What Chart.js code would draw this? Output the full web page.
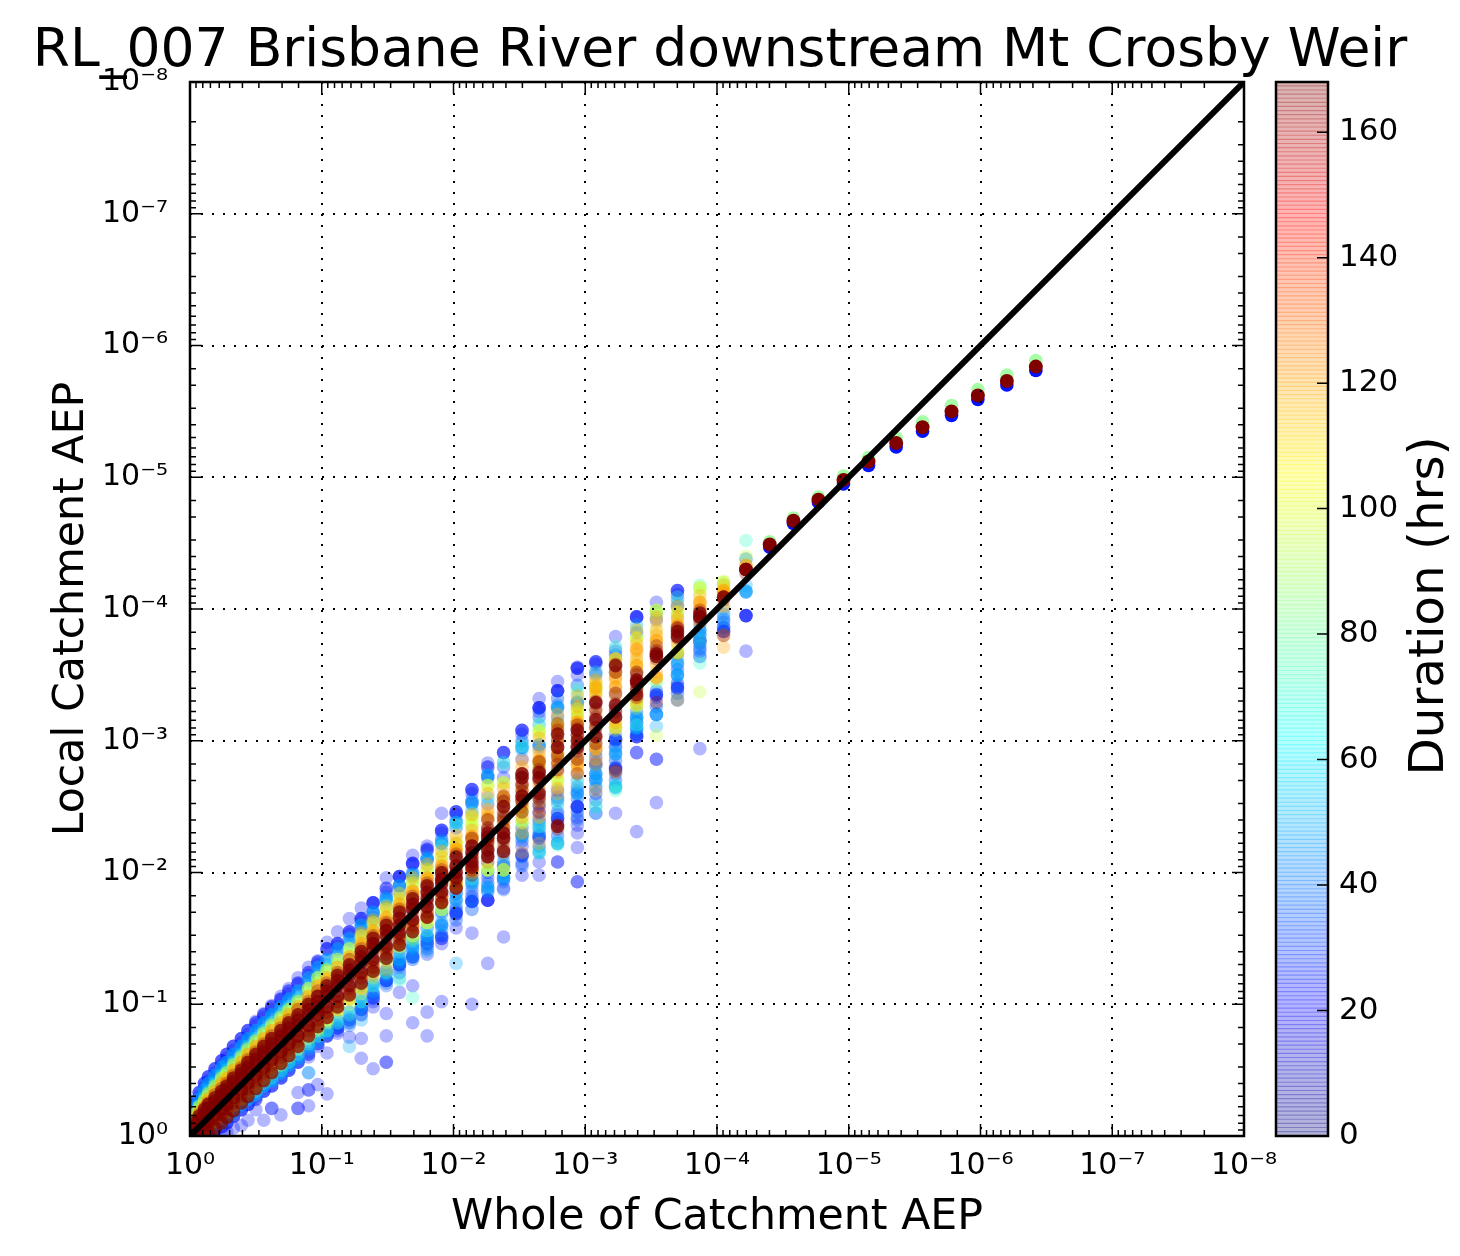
<!DOCTYPE html>
<html>
<head>
<meta charset="utf-8">
<title>RL_007 Brisbane River downstream Mt Crosby Weir</title>
<script src="https://cdn.jsdelivr.net/npm/chart.js@4/dist/chart.umd.min.js"></script>
<style>
html, body { margin: 0; padding: 0; background: #fff; }
#main { position: absolute; left: 0; top: 0; }
#bar { position: absolute; left: 1250px; top: 0; }
</style>
</head>
<body>
<canvas id="main" width="1440" height="1256"></canvas>
<canvas id="bar" width="210" height="1256"></canvas>
<script>
// All AEP values below are written as exponents, 2.5 means 10^-2.5
var durations = [24, 36, 48, 72, 96, 120, 168];
var yTickLabels = ['10⁰', '10⁻¹', '10⁻²', '10⁻³', '10⁻⁴', '10⁻⁵', '10⁻⁶', '10⁻⁷', '10⁻⁸'];
var barTicks = [0, 20, 40, 60, 80, 100, 120, 140, 160];
var lineEnds = [0, 8];

// Whole of catchment AEP of each column of points
var columnX = [4.22, 4.05, 3.87, 3.70, 3.54, 3.39, 3.23, 3.08, 2.94, 2.79, 2.65,
    2.52, 2.38, 2.26, 2.14, 2.02, 1.91, 1.80, 1.69, 1.59, 1.49, 1.39,
    1.30, 1.21, 1.12, 1.04, 0.97, 0.90, 0.82, 0.75, 0.69, 0.62, 0.56,
    0.50, 0.44, 0.39, 0.33, 0.28, 0.24, 0.19, 0.14, 0.11, 0.07, 0.04];

// Local catchment AEP, one inner list per column, one array per duration
var local24 = [
    [4.38, 3.95, 3.95, 3.68], [3.86, 3.83], [3.93, 3.76, 3.70, 3.64, 2.94], [4.14, 4.11, 3.42, 3.40, 3.31],
    [4.05, 3.35, 3.33, 2.86, 2.86, 2.53], [3.94, 3.94, 3.05, 3.03, 2.91, 2.91, 2.31],
    [3.79, 3.68, 3.01, 2.96, 2.80, 2.78, 2.45], [3.60, 3.58, 3.50, 2.84, 2.64, 2.45],
    [3.56, 3.55, 3.50, 2.50, 2.50, 2.42, 2.36, 2.30, 2.19, 1.93, 1.93], [3.45, 3.38, 3.38, 3.18, 2.57, 2.41, 2.38, 2.08, 2.08],
    [3.32, 3.25, 3.25, 3.22, 2.45, 2.28, 2.08, 1.98], [3.08, 3.05, 2.86, 2.20, 2.14, 2.07, 1.98],
    [2.91, 2.72, 2.18, 1.88, 1.51], [2.83, 2.52, 1.96, 1.79, 1.79, 1.31], [2.63, 2.60, 2.52, 1.82, 1.78, 1.54, 1.00],
    [2.46, 2.44, 1.70, 1.68, 1.58], [2.45, 2.32, 2.30, 1.52, 1.46, 1.02], [2.20, 2.18, 1.48, 1.38, 0.94, 0.76],
    [2.13, 2.07, 2.06, 1.36, 1.14, 0.86], [1.97, 1.97, 1.90, 1.30, 1.09], [1.96, 1.85, 1.18, 0.93, 0.76, 0.56, 0.56],
    [1.77, 1.77, 1.70, 1.02, 0.98, 0.51], [1.73, 1.65, 1.63, 0.92, 0.74, 0.59], [1.65, 1.55, 1.53, 0.86, 0.75],
    [1.55, 1.46, 1.44, 0.80, 0.78], [1.47, 1.42, 0.76, 0.63, 0.32], [1.33, 1.30, 0.68, 0.39],
    [1.28, 1.22, 0.60, 0.35, 0.35, 0.23], [1.20, 1.15, 0.56, 0.33, 0.21, 0.21], [1.12, 1.08, 0.50],
    [1.06, 1.03, 0.44, 0.16], [0.99, 0.96, 0.38, 0.21, 0.21], [0.93, 0.90, 0.34, 0.12], [0.87, 0.84, 0.30, 0.20],
    [0.80, 0.77, 0.24, 0.12], [0.74, 0.71, 0.20, 0.08], [0.68, 0.65, 0.15, 0.06], [0.62, 0.59, 0.10, 0.03],
    [0.57, 0.54, 0.07, 0.02], [0.51, 0.48, 0.04], [0.45, 0.42, 0.02], [0.40, 0.37], [0.33, 0.30], [0.26, 0.24]
];
var local36 = [
    [4.13], [3.96, 3.92], [3.88, 3.84], [4.08, 3.58, 3.50], [3.20, 3.20], [3.17, 3.13, 3.05], [3.05, 2.95, 2.90],
    [2.92, 2.72, 2.70], [2.62, 2.60], [3.27, 3.25, 2.44], [2.97, 2.95, 2.38, 2.32], [2.95, 2.29, 2.27],
    [1.96, 1.93, 1.87], [2.74, 2.72, 1.88], [2.53, 1.90, 1.80], [2.40, 1.80, 1.75], [2.22, 1.62, 1.56],
    [2.10, 1.52, 1.44], [1.46, 1.38], [1.36, 1.30, 1.28], [1.82, 1.16, 1.14], [1.66, 1.08, 1.04], [1.58, 0.96, 0.92],
    [1.48, 0.90, 0.84], [1.40, 0.84, 0.82], [1.34, 0.78], [1.26, 0.72], [1.18, 0.64, 0.48], [1.10, 0.58], [1.04, 0.52],
    [0.98, 0.46], [0.92, 0.42], [0.86, 0.36], [0.80, 0.30], [0.74, 0.26], [0.68, 0.22], [0.62, 0.17], [0.56, 0.12],
    [0.52, 0.09], [0.46, 0.06], [0.40, 0.04], [0.35, 0.02], [0.28], [0.22]
];
var local48 = [
    [4.18, 4.14], [4.00, 3.93], [3.80, 3.72, 3.64], [4.05, 3.62, 3.50, 3.31], [3.98, 3.11], [3.88, 3.18, 3.10],
    [3.70, 2.92, 2.66, 2.64], [2.80, 2.66, 2.50, 2.45], [3.30, 3.28, 2.70], [3.25, 2.52, 2.24, 2.22], [3.12, 2.30, 2.17],
    [2.98, 2.93, 2.30], [2.84, 1.97], [2.57, 1.86], [2.47, 1.94], [2.38, 1.84, 1.31], [2.24, 1.68], [2.12, 1.48, 1.40],
    [1.98, 1.42, 1.36], [1.86, 1.32, 1.20], [1.78, 1.22], [1.64, 1.10], [1.56, 0.98, 0.88], [1.46, 0.86, 0.68],
    [1.36, 0.86], [1.30, 0.78], [1.24, 0.72], [1.16, 0.66, 0.48], [1.08, 0.58], [1.02, 0.54], [0.96, 0.48], [0.90, 0.42],
    [0.84, 0.38], [0.78, 0.32], [0.72, 0.28], [0.66, 0.24], [0.60, 0.19], [0.54, 0.14], [0.50, 0.11], [0.44, 0.08],
    [0.38, 0.05], [0.33, 0.03], [0.26, 0.01], [0.20]
];
var local72 = [
    [4.52, 4.38], [4.19], [4.18, 3.76, 3.59], [4.09, 3.95], [3.96, 3.44], [3.85, 3.30, 3.12], [3.72, 2.66, 2.62],
    [3.52, 2.50], [3.39, 3.36, 2.68], [3.16, 2.53, 2.21], [3.13, 2.35, 2.15], [2.96, 2.38], [2.83, 2.06], [2.55, 2.02],
    [2.45, 1.95], [2.36, 1.90], [2.20, 1.72], [2.04, 1.56], [1.94, 1.48, 1.05], [1.84, 1.40, 1.18], [1.75, 1.24],
    [1.60, 1.14], [1.52, 1.02], [1.42, 0.92], [1.32, 0.86], [1.28, 0.80], [1.20, 0.76], [1.12, 0.70], [1.04, 0.62],
    [0.98, 0.56], [0.92, 0.50], [0.86, 0.44], [0.80, 0.40], [0.74, 0.34], [0.68, 0.30], [0.62, 0.26], [0.56, 0.21],
    [0.50, 0.16], [0.46, 0.13], [0.40, 0.10], [0.34, 0.06], [0.29, 0.04], [0.23, 0.02], [0.17]
];
var local96 = [
    [4.40], [4.21, 4.16], [4.16, 4.12, 3.37], [3.98, 3.70, 3.67], [3.99, 3.84, 3.46, 3.04], [3.78, 3.60, 3.25],
    [3.62, 3.12, 3.08], [3.44, 3.40, 3.00], [3.22, 3.18], [2.90, 2.72, 2.68], [3.08, 3.05, 2.82], [2.47, 2.40],
    [2.68, 2.02], [2.66, 2.02], [2.40, 2.36], [2.24, 1.92], [2.12, 1.76], [2.00, 1.62], [1.90, 1.50], [1.78, 1.44],
    [1.68, 1.32], [1.56, 1.20], [1.48, 1.08], [1.38, 1.00], [1.30, 0.94], [1.24, 0.86], [1.16, 0.80], [1.08, 0.74],
    [1.00, 0.66], [0.94, 0.60], [0.88, 0.54], [0.82, 0.48], [0.76, 0.42], [0.70, 0.36], [0.64, 0.32], [0.58, 0.28],
    [0.52, 0.23], [0.46, 0.18], [0.42, 0.15], [0.36, 0.11], [0.30, 0.08], [0.25, 0.05], [0.20, 0.03], [0.14, 0.01]
];
var local120 = [
    [4.33], [4.18, 4.14, 4.11, 3.80, 3.71], [4.10, 4.05, 4.02], [3.94, 3.87, 3.66, 3.31], [3.90, 3.84, 3.76, 3.52, 3.48],
    [3.70, 3.66, 3.57, 3.40, 3.28], [3.55, 3.46, 3.40, 3.10, 2.76], [3.42, 3.36, 2.96, 2.94, 2.82, 2.62],
    [3.18, 3.10, 2.84, 2.80], [3.12, 3.06, 2.90, 2.84, 2.60], [2.88, 2.85, 2.70, 2.22], [2.85, 2.52, 2.15],
    [2.57, 2.50, 2.38, 2.15], [2.45, 2.40, 2.25], [2.28, 2.25, 2.02], [2.22, 2.18, 1.88], [2.08, 2.00, 1.80],
    [1.96, 1.90, 1.68], [1.86, 1.80, 1.58], [1.72, 1.68, 1.46], [1.62, 1.58, 1.26], [1.52, 1.48, 1.22],
    [1.44, 1.40, 1.12], [1.34, 1.30, 1.04], [1.24, 1.20, 0.96], [1.18, 1.14, 0.90], [1.12, 1.08, 0.84],
    [1.04, 1.00, 0.78], [0.96, 0.92, 0.70], [0.90, 0.86, 0.64], [0.84, 0.80, 0.58], [0.78, 0.74, 0.52],
    [0.72, 0.68, 0.46], [0.66, 0.62, 0.40], [0.60, 0.56, 0.34], [0.54, 0.50, 0.30], [0.48, 0.44, 0.25],
    [0.42, 0.38, 0.20], [0.38, 0.34, 0.17], [0.32, 0.29, 0.13], [0.27, 0.24, 0.09], [0.22, 0.19, 0.06],
    [0.17, 0.15, 0.04], [0.12, 0.10, 0.02]
];
var local168 = [
    [4.30, 4.30, 4.30, 4.30, 4.27], [4.09, 4.09, 4.07, 3.80], [3.99, 3.96, 3.94, 3.94, 3.92], [3.85, 3.82, 3.80, 3.78],
    [3.72, 3.66, 3.64, 3.62, 3.29], [3.50, 3.46, 3.44, 3.38, 3.33], [3.58, 3.28, 3.24, 3.18, 2.77],
    [3.30, 3.28, 3.18, 3.14, 3.05], [3.09, 3.05, 2.96, 2.92, 2.75], [3.13, 3.08, 2.95, 2.82, 2.36, 2.33],
    [2.78, 2.75, 2.62, 2.58, 2.50, 2.46], [2.75, 2.72, 2.68, 2.62, 2.58, 2.55], [2.58, 2.46, 2.40, 2.30, 2.26, 2.24],
    [2.32, 2.27, 2.22, 2.18, 2.14, 2.12], [2.20, 2.16, 2.10, 2.06, 2.02, 1.98], [2.14, 2.10, 2.04, 2.00, 1.96, 1.94],
    [2.02, 1.98, 1.94, 1.90, 1.86, 1.82], [1.92, 1.88, 1.82, 1.78, 1.74, 1.70], [1.82, 1.76, 1.72, 1.68, 1.64, 1.60],
    [1.72, 1.66, 1.60, 1.56, 1.52, 1.50], [1.62, 1.56, 1.50, 1.46, 1.42, 1.38], [1.52, 1.46, 1.40, 1.36, 1.32, 1.28],
    [1.42, 1.38, 1.32, 1.28, 1.24, 1.20], [1.34, 1.28, 1.24, 1.20, 1.16, 1.12], [1.24, 1.20, 1.14, 1.10, 1.06, 1.02],
    [1.16, 1.12, 1.06, 1.02, 0.98, 0.94], [1.10, 1.06, 0.98, 0.96, 0.92, 0.88], [1.02, 0.98, 0.92, 0.88, 0.84, 0.80],
    [0.96, 0.90, 0.84, 0.80, 0.76, 0.72], [0.88, 0.84, 0.78, 0.74, 0.70, 0.66], [0.82, 0.78, 0.72, 0.68, 0.64, 0.60],
    [0.76, 0.72, 0.66, 0.62, 0.58, 0.54], [0.70, 0.66, 0.60, 0.56, 0.52, 0.48], [0.64, 0.60, 0.54, 0.50, 0.46, 0.42],
    [0.58, 0.54, 0.48, 0.44, 0.40, 0.36], [0.52, 0.48, 0.43, 0.39, 0.35, 0.31], [0.46, 0.42, 0.37, 0.33, 0.29, 0.25],
    [0.40, 0.36, 0.32, 0.28, 0.24, 0.20], [0.36, 0.32, 0.28, 0.24, 0.20, 0.16], [0.31, 0.27, 0.23, 0.19, 0.16, 0.13],
    [0.25, 0.22, 0.18, 0.14, 0.11, 0.09], [0.21, 0.18, 0.14, 0.11, 0.08, 0.06], [0.16, 0.13, 0.10, 0.07, 0.05, 0.03],
    [0.11, 0.08, 0.06, 0.04, 0.02, 0.01]
];
var localByDuration = [local24, local36, local48, local72, local96, local120, local168];

// Spots where many events of one duration pile up and the colour goes solid
var dense24 = [
    [3.95], [3.83], [3.76], [4.14, 3.40], [3.35], [3.94, 3.03], [3.01, 2.79], [3.60, 2.82], [3.55, 2.50], [3.38, 2.41],
    [3.25, 2.26], [3.08, 2.13], [2.91, 2.05], [2.80, 1.79], [2.63, 1.78], [2.46, 1.69], [2.32, 1.50], [2.17, 1.46],
    [2.07, 1.36], [1.97, 1.30], [1.88, 1.18], [1.77, 1.05], [1.65, 0.96], [1.55, 0.88], [1.46, 0.82], [1.42, 0.76],
    [1.32, 0.70], [1.24, 0.62], [1.16, 0.56], [1.10, 0.50], [1.04, 0.44], [0.98, 0.38], [0.92, 0.34], [0.86, 0.28],
    [0.80, 0.24], [0.74, 0.20], [0.68, 0.15], [0.62, 0.10], [0.57, 0.07], [0.51, 0.04], [0.45, 0.02], [0.40], [0.33], [0.26]
];
var dense48 = [
    [4.13], [], [3.84], [3.59, 3.50], [3.20], [3.18, 3.10], [2.90, 2.65], [2.75, 2.70], [3.29, 2.60], [3.25, 2.22],
    [2.97, 2.35, 2.15], [2.95, 2.28], [1.96], [2.74, 1.89], [2.53, 1.92], [2.38, 1.79], [2.22, 1.60], [2.10, 1.52],
    [1.98, 1.44], [1.90, 1.34], [1.80, 1.24], [1.70, 1.14], [1.60, 1.02], [1.50, 0.94], [1.42, 0.88], [1.34, 0.80],
    [1.28, 0.76], [1.20, 0.68], [1.10, 0.60], [1.04, 0.54], [0.98, 0.48], [0.92, 0.42], [0.86, 0.38], [0.80, 0.32],
    [0.74, 0.28], [0.68, 0.24], [0.62, 0.18], [0.56, 0.14], [0.52, 0.10], [0.46, 0.07], [0.40, 0.04], [0.35, 0.02], [0.28], [0.22]
];
var dense96 = [
    [], [4.20], [4.16], [3.97, 3.67], [3.99], [3.78, 3.27], [3.62, 3.10], [3.41, 3.38], [3.24, 3.21], [3.12, 2.70],
    [3.07, 2.82], [2.47, 2.38], [2.68, 2.02], [2.66, 2.02], [2.42, 2.36], [2.22, 1.90], [2.12, 1.72], [2.02, 1.62],
    [1.92, 1.52], [1.80, 1.44], [1.72, 1.34], [1.62, 1.24], [1.52, 1.12], [1.42, 1.04], [1.34, 0.96], [1.26, 0.88],
    [1.20, 0.82], [1.12, 0.76], [1.02, 0.68], [0.96, 0.62], [0.90, 0.56], [0.84, 0.50], [0.78, 0.44], [0.72, 0.38],
    [0.66, 0.34], [0.60, 0.28], [0.54, 0.23], [0.48, 0.18], [0.44, 0.15], [0.38, 0.11], [0.32, 0.07], [0.27, 0.05],
    [0.22, 0.03], [0.16, 0.01]
];
var dense120 = [
    [4.33], [4.14, 4.12], [4.05], [3.88], [3.76, 3.48], [3.69, 3.57], [3.48, 3.41], [3.40, 2.94], [3.14, 2.82],
    [3.10, 2.91, 2.84], [2.85], [2.62, 2.50], [2.57, 2.38], [2.42, 2.25], [2.27, 2.02], [2.18, 1.92], [2.05, 1.78],
    [1.96, 1.66], [1.86, 1.58], [1.76, 1.48], [1.66, 1.40], [1.56, 1.28], [1.46, 1.20], [1.36, 1.10], [1.28, 1.02],
    [1.20, 0.94], [1.14, 0.88], [1.06, 0.82], [0.98, 0.74], [0.92, 0.68], [0.86, 0.62], [0.80, 0.56], [0.74, 0.50],
    [0.68, 0.44], [0.62, 0.38], [0.56, 0.33], [0.50, 0.27], [0.44, 0.22], [0.40, 0.18], [0.34, 0.14], [0.28, 0.10],
    [0.23, 0.07], [0.18, 0.04], [0.12, 0.02]
];
var dense168 = [
    [4.30, 4.30], [4.09], [3.97, 3.94], [3.83, 3.79], [3.66, 3.64], [3.46, 3.44, 3.35], [3.57, 3.27, 3.18],
    [3.29, 3.16, 3.03], [3.08, 3.00, 2.95], [3.05, 2.95, 2.35], [2.76, 2.72, 2.60], [2.75, 2.72, 2.58],
    [2.50, 2.30, 2.26, 2.16], [2.30, 2.27, 2.17, 2.12], [2.20, 2.15, 2.08, 2.04], [2.12, 2.05, 2.00, 1.96, 1.88],
    [2.00, 1.95, 1.92, 1.85, 1.77], [1.90, 1.85, 1.80, 1.74, 1.66], [1.80, 1.76, 1.72, 1.64, 1.55], [1.70, 1.65, 1.60, 1.54, 1.45],
    [1.60, 1.56, 1.52, 1.44, 1.35], [1.50, 1.46, 1.42, 1.34, 1.25], [1.40, 1.36, 1.32, 1.24, 1.16], [1.30, 1.26, 1.22, 1.14, 1.07],
    [1.22, 1.18, 1.14, 1.06, 0.98], [1.14, 1.10, 1.06, 0.98, 0.90], [1.06, 1.02, 0.98, 0.92, 0.83], [1.00, 0.96, 0.92, 0.84, 0.76],
    [0.92, 0.88, 0.84, 0.76, 0.68], [0.86, 0.82, 0.78, 0.70, 0.61], [0.80, 0.76, 0.72, 0.64, 0.55], [0.74, 0.70, 0.66, 0.58, 0.48],
    [0.68, 0.64, 0.60, 0.52, 0.42], [0.62, 0.58, 0.54, 0.46, 0.36], [0.56, 0.52, 0.48, 0.40, 0.30], [0.50, 0.47, 0.43, 0.35, 0.25],
    [0.44, 0.41, 0.37, 0.29, 0.19], [0.38, 0.35, 0.32, 0.24, 0.14], [0.34, 0.31, 0.28, 0.20, 0.10], [0.29, 0.26, 0.23, 0.16, 0.06],
    [0.24, 0.21, 0.18, 0.11, 0.03], [0.20, 0.17, 0.14, 0.08, 0.02], [0.15, 0.12, 0.10, 0.05], [0.10, 0.08, 0.06, 0.02]
];
var denseDurations = [24, 48, 96, 120, 168];
var denseByDuration = [dense24, dense48, dense96, dense120, dense168];

// More events along the busy columns, these only reach as far as the column at 1.30
var fill36 = [
    [], [3.90, 3.86], [3.68, 3.74, 3.80], [3.36, 3.44, 3.54, 3.66, 4.02], [3.26, 3.38, 3.92], [3.08, 3.14, 3.22, 3.82],
    [2.70, 2.75, 2.85, 3.00, 3.65], [2.55, 2.60, 2.75, 2.88, 3.52], [2.40, 2.46, 2.56, 2.65, 3.42], [2.28, 2.46, 2.55, 2.62, 3.32],
    [2.20, 2.28, 2.40, 2.52, 3.18], [2.05, 2.12, 2.24, 2.34, 3.00], [1.95, 2.00, 2.08, 2.14, 2.80], [1.86, 1.92, 2.00, 2.08, 2.72],
    [1.72, 1.78, 1.86, 1.94, 2.55], [1.64, 1.72, 1.84, 2.34], [1.52, 1.60, 1.70, 2.25], [1.42, 1.50, 1.58, 2.10],
    [1.34, 1.42, 1.50, 2.00], [1.24, 1.32, 1.40, 1.90], [1.18, 1.26, 1.34, 1.80], [1.08, 1.16, 1.24, 1.70], [0.98, 1.06, 1.14, 1.60]
];
var fill120 = [
    [], [4.02], [3.90, 4.00], [3.74, 3.92, 4.02], [3.58, 3.70, 3.80, 3.94], [3.32, 3.52, 3.62, 3.74, 3.84], [3.14, 3.34, 3.52, 3.62],
    [2.86, 3.10, 3.22, 3.34, 3.46], [2.76, 2.88, 3.02, 3.14, 3.26, 3.34], [2.64, 2.76, 2.98, 3.02, 3.20],
    [2.42, 2.54, 2.66, 2.80, 2.92, 3.02], [2.30, 2.42, 2.56, 2.66, 2.80], [2.20, 2.34, 2.44, 2.54, 2.64], [2.08, 2.20, 2.34, 2.48, 2.60],
    [2.00, 2.12, 2.24, 2.32, 2.44], [1.90, 2.06, 2.16, 2.28], [1.82, 1.94, 2.04, 2.16], [1.70, 1.84, 1.94, 2.06], [1.62, 1.74, 1.84, 1.96],
    [1.50, 1.62, 1.74, 1.84], [1.42, 1.54, 1.64, 1.74], [1.32, 1.44, 1.54, 1.64], [1.22, 1.34, 1.44, 1.54]
];
var fill168 = [
    [], [], [], [3.86], [3.68], [3.52, 3.40], [3.36, 3.22, 3.52], [3.24, 3.10, 2.98], [3.12, 3.04, 2.86], [3.00, 2.88, 2.78],
    [2.84, 2.70, 2.56], [2.66, 2.54, 2.46], [2.54, 2.42, 2.34], [2.40, 2.34, 2.24], [2.26, 2.12]
];
var fillDurations = [36, 120, 168];
var fillByDuration = [fill36, fill120, fill168];

// Rarest events, every duration sits almost on the same spot here
var tailX = [6.42, 6.20, 5.98, 5.78, 5.56, 5.36, 5.15, 4.96, 4.77, 4.58, 4.40];
var tailLow = [5.81, 5.70, 5.59, 5.47, 5.35, 5.23, 5.09, 4.95, 4.81, 4.65, 4.47];
var tailHigh = [5.885, 5.775, 5.665, 5.545, 5.42, 5.30, 5.15, 5.01, 4.85, 4.69, 4.51];
var tailMid = [5.84, 5.73, 5.62, 5.50, 5.38, 5.26, 5.12, 4.98, 4.83, 4.67, 4.49];

var fontName = '"DejaVu Sans"';
var maxDuration = 168;

// Same colours as the jet colormap
function jet(v, alpha) {
    function part(c) {
        return Math.round(255 * Math.max(0, Math.min(1, 1.5 - Math.abs(4 * v - c))));
    }
    return 'rgba(' + part(3) + ',' + part(2) + ',' + part(1) + ',' + alpha + ')';
}

function aep(exponent) {
    return Math.pow(10, -exponent);
}

function isDecade(value) {
    var e = Math.log10(value);
    return Math.abs(e - Math.round(e)) < 1e-6;
}

function scatterSet(points, duration, alpha, radius) {
    return {
        data: points,
        pointRadius: radius || 6.8,
        pointBorderWidth: 0,
        pointBackgroundColor: jet(duration / maxDuration, alpha),
        showLine: false
    };
}

function columnPoints(columns) {
    var points = [];
    columns.forEach(function (column, i) {
        column.forEach(function (y) {
            points.push({ x: aep(columnX[i]), y: aep(y) });
        });
    });
    return points;
}

// Chart.js draws the first dataset on top, so this list is built back to front
function buildDatasets() {
    var sets = [];
    durations.forEach(function (duration, d) {
        sets.unshift(scatterSet(columnPoints(localByDuration[d]), duration, 0.3));
        var f = fillDurations.indexOf(duration);
        if (f >= 0) {
            sets.unshift(scatterSet(columnPoints(fillByDuration[f]), duration, 0.4));
        }
        var k = denseDurations.indexOf(duration);
        if (k >= 0) {
            sets.unshift(scatterSet(columnPoints(denseByDuration[k]), duration, duration === 168 ? 0.75 : 0.55));
        }
    });
    function tail(values) {
        return values.map(function (y, i) {
            return { x: aep(tailX[i]), y: aep(y) };
        });
    }
    sets.unshift(scatterSet(tail(tailLow), 24, 1));
    sets.unshift(scatterSet(tail(tailHigh), 84, 0.7));
    sets.unshift(scatterSet(tail(tailMid), 168, 1, 7));
    sets.unshift({
        data: lineEnds.map(function (e) { return { x: aep(e), y: aep(e) }; }),
        showLine: true,
        borderColor: '#000',
        borderWidth: 6,
        pointRadius: 0
    });
    return sets;
}

function logAxis(titleText, titlePadding, labelPadding) {
    return {
        type: 'logarithmic',
        reverse: true,
        min: 1e-8,
        max: 1,
        title: { display: true, text: titleText, color: '#000', font: { family: fontName, size: 42.7 }, padding: titlePadding },
        border: { display: false, dash: [2, 9] },
        grid: {
            z: 1,
            lineWidth: 2,
            tickLength: 0,
            color: function (ctx) {
                return ctx.tick && isDecade(ctx.tick.value) ? '#000' : 'rgba(0,0,0,0)';
            }
        },
        ticks: {
            autoSkip: false,
            maxRotation: 0,
            color: '#000',
            padding: labelPadding,
            font: { family: fontName, size: 30 },
            callback: function (value) {
                return isDecade(value) ? yTickLabels[Math.round(-Math.log10(value))] : '';
            }
        }
    };
}

// Ticks point inwards on all four sides, plus frame and title
var mainFrame = {
    id: 'mainFrame',
    afterDraw: function (chart) {
        var ctx = chart.ctx, a = chart.chartArea;
        ctx.save();
        ctx.strokeStyle = '#000';
        ctx.lineWidth = 1.5;
        ctx.beginPath();
        chart.scales.x.ticks.forEach(function (t) {
            var px = chart.scales.x.getPixelForValue(t.value), len = isDecade(t.value) ? 12 : 6;
            ctx.moveTo(px, a.top); ctx.lineTo(px, a.top + len);
            ctx.moveTo(px, a.bottom); ctx.lineTo(px, a.bottom - len);
        });
        chart.scales.y.ticks.forEach(function (t) {
            var py = chart.scales.y.getPixelForValue(t.value), len = isDecade(t.value) ? 12 : 6;
            ctx.moveTo(a.left, py); ctx.lineTo(a.left + len, py);
            ctx.moveTo(a.right, py); ctx.lineTo(a.right - len, py);
        });
        ctx.stroke();
        ctx.lineWidth = 2.5;
        ctx.strokeRect(a.left, a.top, a.right - a.left, a.bottom - a.top);
        ctx.fillStyle = '#000';
        ctx.font = '53.5px ' + fontName;
        ctx.textAlign = 'center';
        ctx.textBaseline = 'middle';
        ctx.fillText('RL_007 Brisbane River downstream Mt Crosby Weir', 720, 52);
        ctx.restore();
    }
};

new Chart(document.getElementById('main'), {
    type: 'scatter',
    data: { datasets: buildDatasets() },
    options: {
        responsive: false,
        animation: false,
        layout: { padding: { top: 82, right: 196, left: 0, bottom: 0 } },
        plugins: { legend: { display: false }, tooltip: { enabled: false } },
        scales: {
            x: Object.assign(logAxis('Whole of Catchment AEP', { top: 0, bottom: 12 }, 12), {
                afterFit: function (scale) { scale.height = 120; }
            }),
            y: Object.assign(logAxis('Local Catchment AEP', { top: 46, bottom: 0 }, 22), {
                afterFit: function (scale) { scale.width = 190; }
            })
        }
    },
    plugins: [mainFrame]
});

// Colour bar, one thin translucent band per colormap step, the slight overlap gives the stripes
function buildBands() {
    var bands = [], steps = 256;
    for (var i = 0; i < steps; i++) {
        var low = maxDuration * i / steps;
        bands.push({
            data: [[low, Math.min(maxDuration, low + maxDuration / steps + 0.08)]],
            backgroundColor: jet((i + 0.5) / steps, 0.3),
            borderWidth: 0,
            grouped: false,
            barPercentage: 1,
            categoryPercentage: 1
        });
    }
    return bands;
}

var barFrame = {
    id: 'barFrame',
    afterDraw: function (chart) {
        var ctx = chart.ctx, a = chart.chartArea;
        ctx.save();
        ctx.strokeStyle = '#000';
        ctx.lineWidth = 1.5;
        ctx.beginPath();
        barTicks.forEach(function (t) {
            var py = chart.scales.y.getPixelForValue(t);
            ctx.moveTo(a.right, py); ctx.lineTo(a.right - 11, py);
        });
        ctx.stroke();
        ctx.lineWidth = 2.5;
        ctx.strokeRect(a.left, a.top, a.right - a.left, a.bottom - a.top);
        ctx.fillStyle = '#000';
        ctx.font = '48.4px ' + fontName;
        ctx.textAlign = 'center';
        ctx.textBaseline = 'middle';
        ctx.translate(180, 606);
        ctx.rotate(-Math.PI / 2);
        ctx.fillText('Duration (hrs)', 0, 0);
        ctx.restore();
    }
};

new Chart(document.getElementById('bar'), {
    type: 'bar',
    data: { labels: ['Duration'], datasets: buildBands() },
    options: {
        responsive: false,
        animation: false,
        layout: { padding: { top: 82, bottom: 120, left: 26, right: 0 } },
        plugins: { legend: { display: false }, tooltip: { enabled: false } },
        scales: {
            x: { display: false },
            y: {
                position: 'right',
                min: 0,
                max: maxDuration,
                afterFit: function (scale) { scale.width = 132; },
                grid: { display: false, drawTicks: false },
                border: { display: false },
                ticks: {
                    includeBounds: false,
                    stepSize: 20,
                    color: '#000',
                    padding: 11,
                    font: { family: fontName, size: 31 }
                }
            }
        }
    },
    plugins: [barFrame]
});
</script>
</body>
</html>
